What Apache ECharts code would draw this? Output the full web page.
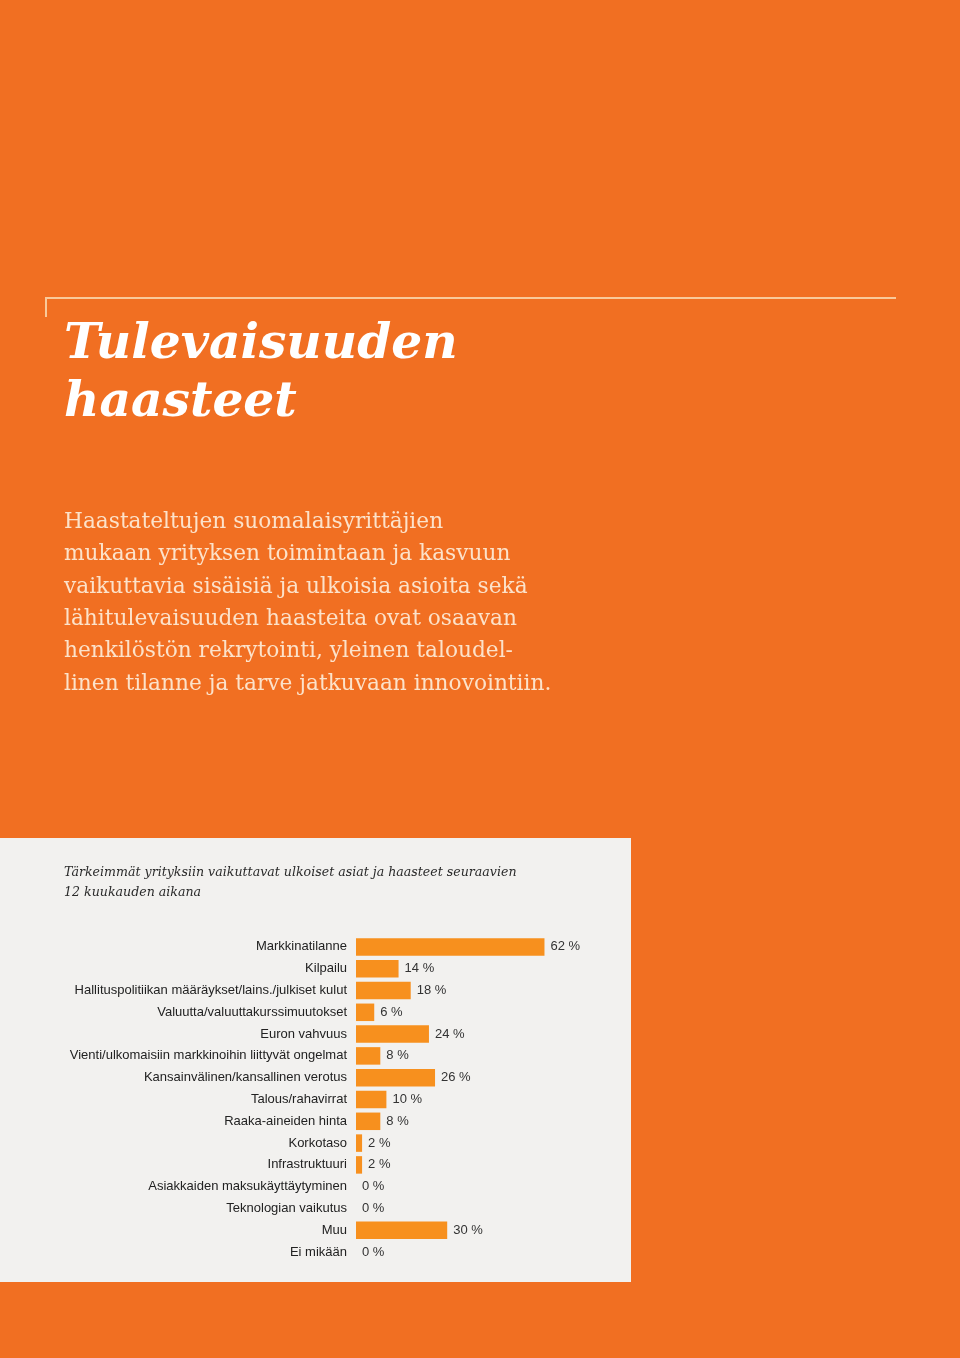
<!DOCTYPE html>
<html><head><meta charset="utf-8">
<script src="https://cdn.jsdelivr.net/npm/echarts@6/dist/echarts.min.js"></script>
<style>html,body{margin:0;padding:0;background:#F16F22;}#c{width:960px;height:1358px;}</style>
</head><body><div id="c"></div>
<script>
const categories = [
  'Markkinatilanne',
  'Kilpailu',
  'Hallituspolitiikan määräykset/lains./julkiset kulut',
  'Valuutta/valuuttakurssimuutokset',
  'Euron vahvuus',
  'Vienti/ulkomaisiin markkinoihin liittyvät ongelmat',
  'Kansainvälinen/kansallinen verotus',
  'Talous/rahavirrat',
  'Raaka-aineiden hinta',
  'Korkotaso',
  'Infrastruktuuri',
  'Asiakkaiden maksukäyttäytyminen',
  'Teknologian vaikutus',
  'Muu',
  'Ei mikään'
];
const values = [62, 14, 18, 6, 24, 8, 26, 10, 8, 2, 2, 0, 0, 30, 0];
const titleLines = ['Tulevaisuuden', 'haasteet'];
const introLines = [
  'Haastateltujen suomalaisyrittäjien',
  'mukaan yrityksen toimintaan ja kasvuun',
  'vaikuttavia sisäisiä ja ulkoisia asioita sekä',
  'lähitulevaisuuden haasteita ovat osaavan',
  'henkilöstön rekrytointi, yleinen taloudel-',
  'linen tilanne ja tarve jatkuvaan innovointiin.'
];
const chartTitleLines = [
  'Tärkeimmät yrityksiin vaikuttavat ulkoiset asiat ja haasteet seuraavien',
  '12 kuukauden aikana'
];

const chart = echarts.init(document.getElementById('c'), null, {renderer: 'canvas'});
const graphics = [
  {type: 'rect', z: -10, shape: {x: 0, y: 0, width: 960, height: 1358}, style: {fill: '#F16F22'}},
  {type: 'rect', z: -9, shape: {x: 0, y: 838, width: 631, height: 444}, style: {fill: '#F2F1EF'}},
  {type: 'polyline', shape: {points: [[46, 317], [46, 298], [896, 298]]}, style: {stroke: '#F9C99A', lineWidth: 2, fill: null}}
];
titleLines.forEach((t, i) => graphics.push({
  type: 'text', x: 64, y: 320.5 + i * 58,
  style: {text: t, fill: '#FFFFFF', font: 'italic bold 48.7px "DejaVu Serif"'}
}));
introLines.forEach((t, i) => graphics.push({
  type: 'text', x: 64, y: 511.5 + i * 32.3,
  style: {text: t, fill: '#FCE2CA', font: '21.7px "DejaVu Serif"'}
}));
chartTitleLines.forEach((t, i) => graphics.push({
  type: 'text', x: 64, y: 866 + i * 20,
  style: {text: t, fill: '#2a2a2a', font: 'italic 12.6px "DejaVu Serif"'}
}));

chart.setOption({
  animation: false,
  graphic: graphics,
  grid: {left: 356, top: 936, width: 304, height: 327},
  xAxis: {type: 'value', min: 0, max: 100, show: false},
  yAxis: {
    type: 'category', data: categories, inverse: true,
    axisLine: {show: false}, axisTick: {show: false},
    axisLabel: {margin: 9, color: '#222', fontSize: 13, fontFamily: 'Liberation Sans'}
  },
  series: [{
    type: 'bar', data: values, barWidth: 17.5,
    itemStyle: {color: '#F7901E'},
    label: {show: true, position: 'right', distance: 6, formatter: '{c} %', color: '#333', fontSize: 13, fontFamily: 'Liberation Sans'}
  }]
});
</script></body></html>
